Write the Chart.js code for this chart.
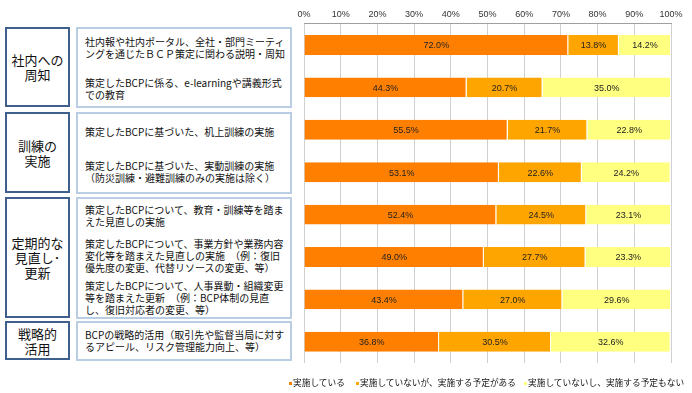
<!DOCTYPE html>
<html>
<head>
<meta charset="utf-8">
<script src="https://cdn.jsdelivr.net/npm/chart.js@4/dist/chart.umd.min.js"></script>
<style>
  body { margin: 0; background: #fff; width: 692px; height: 393px; position: relative; overflow: hidden;
         font-family: "Noto Sans CJK JP", sans-serif; }
  .grp { position: absolute; left: 5px; width: 61px; border: 2.5px solid #3f5f8f; box-sizing: content-box;
         display: flex; align-items: center; justify-content: center; text-align: center;
         font-size: 13px; line-height: 15px; color: #111; white-space: pre; }
  .itm { position: absolute; left: 76px; width: 212px; border: 2px solid #b9cde5; }
  .txt { position: absolute; left: 85px; font-size: 10px; line-height: 12px; color: #111; white-space: pre; }
  #wrap { position: absolute; left: 280px; top: 0; width: 412px; height: 393px; }
  .leg { position: absolute; top: 377px; font-size: 8.7px; line-height: 12px; color: #111; white-space: pre; }
  .leg i { position: absolute; left: -4px; top: 5px; width: 3px; height: 3px; }
</style>
</head>
<body>
<div id="panel"></div>
<div id="wrap"><canvas id="chart"></canvas></div>
<div id="legend"></div>
<script>
// group labels and item labels (left panel)
const groups = ['社内への\n周知', '訓練の\n実施', '定期的な\n見直し･\n更新', '戦略的\n活用'];
const categories = [
  '社内報や社内ポータル、全社・部門ミーティ\nングを通じたＢＣＰ策定に関わる説明・周知',
  '策定したBCPに係る、e-learningや講義形式\nでの教育',
  '策定したBCPに基づいた、机上訓練の実施',
  '策定したBCPに基づいた、実動訓練の実施\n（防災訓練・避難訓練のみの実施は除く）',
  '策定したBCPについて、教育・訓練等を踏ま\nえた見直しの実施',
  '策定したBCPについて、事業方針や業務内容\n変化等を踏まえた見直しの実施　（例：復旧\n優先度の変更、代替リソースの変更、等）',
  '策定したBCPについて、人事異動・組織変更\n等を踏まえた更新　（例：BCP体制の見直\nし、復旧対応者の変更、等）',
  'BCPの戦略的活用（取引先や監督当局に対す\nるアピール、リスク管理能力向上、等）'
];
const seriesNames = ['実施している', '実施していないが、実施する予定がある', '実施していないし、実施する予定もない'];
const seriesColors = ['#ff8000', '#ffa500', '#ffff80'];
const done = [72.0, 44.3, 55.5, 53.1, 52.4, 49.0, 43.4, 36.8];
const planned = [13.8, 20.7, 21.7, 22.6, 24.5, 27.7, 27.0, 30.5];
const none = [14.2, 35.0, 22.8, 24.2, 23.1, 23.3, 29.6, 32.6];
const xTicks = [0, 10, 20, 30, 40, 50, 60, 70, 80, 90, 100];

// panel layout
const groupBoxes = [[27, 108], [112, 194], [197, 319], [321, 361]];
const textTops = [36, 77, 126, 160, 204, 238, 280, 329];
const legendLefts = [293, 360, 528];

const panel = document.getElementById('panel');
groups.forEach((g, i) => {
  const [t, b] = groupBoxes[i];
  const d = document.createElement('div');
  d.className = 'grp';
  d.style.top = t + 'px';
  d.style.height = (b - t - 5) + 'px';
  d.textContent = g;
  panel.appendChild(d);
  const e = document.createElement('div');
  e.className = 'itm';
  e.style.top = t + 'px';
  e.style.height = (b - t - 4) + 'px';
  panel.appendChild(e);
});
categories.forEach((c, i) => {
  const d = document.createElement('div');
  d.className = 'txt';
  d.style.top = textTops[i] + 'px';
  d.textContent = c;
  panel.appendChild(d);
});

// legend
const legend = document.getElementById('legend');
seriesNames.forEach((n, i) => {
  const d = document.createElement('div');
  d.className = 'leg';
  d.style.left = legendLefts[i] + 'px';
  d.innerHTML = '<i style="background:' + seriesColors[i] + '"></i>' + n;
  legend.appendChild(d);
});

// value labels in bar centers
const barLabels = {
  id: 'barLabels',
  afterDatasetsDraw(chart) {
    const ctx = chart.ctx;
    ctx.save();
    ctx.font = '9px "Liberation Sans", sans-serif';
    ctx.fillStyle = '#222';
    ctx.textAlign = 'center';
    ctx.textBaseline = 'middle';
    chart.data.datasets.forEach((ds, di) => {
      chart.getDatasetMeta(di).data.forEach((bar, i) => {
        const cx = (bar.x + bar.base) / 2;
        ctx.fillText(ds.data[i].toFixed(1) + '%', cx, bar.y + 1);
      });
    });
    ctx.restore();
  }
};

new Chart(document.getElementById('chart'), {
  type: 'bar',
  data: {
    labels: categories,
    datasets: [done, planned, none].map((vals, i) => ({
      label: seriesNames[i],
      data: vals,
      backgroundColor: seriesColors[i],
      borderColor: '#ffffff',
      borderWidth: { top: 0, bottom: 0, left: 0, right: 1 },
      borderSkipped: false,
      barPercentage: 0.47,
      categoryPercentage: 1
    }))
  },
  options: {
    indexAxis: 'y',
    responsive: true,
    maintainAspectRatio: false,
    animation: false,
    layout: { padding: { left: 24, right: 21, top: 5, bottom: 30 } },
    scales: {
      x: {
        position: 'top',
        stacked: true,
        min: 0,
        max: 100,
        afterBuildTicks: axis => { axis.ticks = xTicks.map(v => ({ value: v })); },
        ticks: {
          callback: v => v + '%',
          font: { size: 9, family: '"Liberation Sans", sans-serif' },
          color: '#333',
          padding: 4,
          maxRotation: 0
        },
        grid: { color: '#d0d0d0', drawTicks: false },
        border: { color: '#a0a0a0' }
      },
      y: {
        stacked: true,
        display: false
      }
    },
    plugins: {
      legend: { display: false },
      tooltip: { enabled: false }
    }
  },
  plugins: [barLabels]
});
</script>
</body>
</html>
